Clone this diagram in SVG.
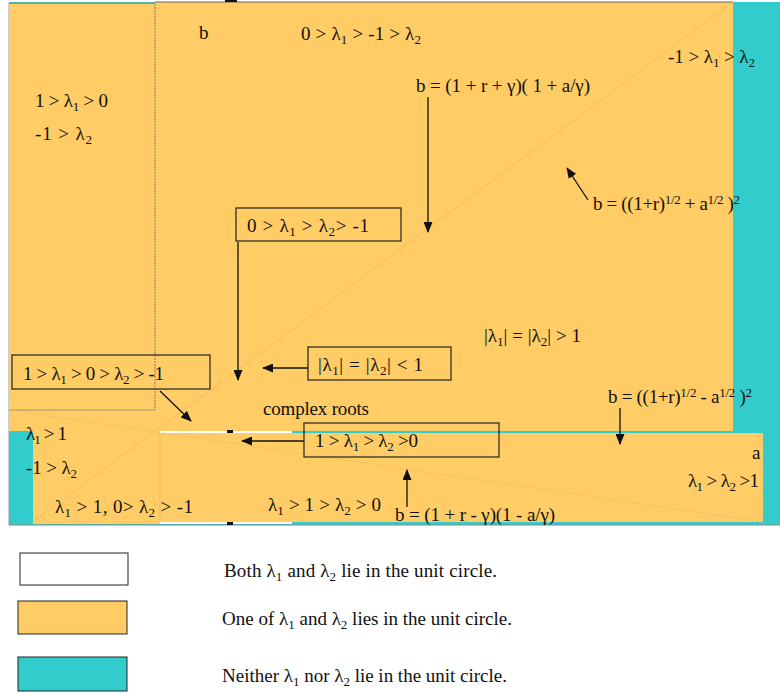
<svg xmlns="http://www.w3.org/2000/svg" width="780" height="693" viewBox="0 0 780 693">
<style>
text{font-family:"Liberation Serif","Times New Roman",serif;font-size:19px;fill:#111;}
.s{font-size:13px;}
.box{fill:none;stroke:#222;stroke-width:1.2;}
.arr{stroke:#111;stroke-width:1.3;fill:none;marker-end:url(#ah);}
.org{fill:#FFCC66;}
.cyn{fill:#33CCCC;}
.faint{stroke:#E6B35A;stroke-width:0.6;fill:none;}
</style>
<defs>
<marker id="ah" markerWidth="11" markerHeight="9" refX="10" refY="4.5" orient="auto" markerUnits="userSpaceOnUse">
<path d="M0,0 L11,4.5 L0,9 z" fill="#111"/>
</marker>
</defs>
<rect width="780" height="693" fill="#fff"/>
<g id="regions">
<rect class="cyn" x="9" y="2" width="771" height="523"/>
<rect class="org" x="155" y="2" width="578" height="429"/>
<rect class="org" x="9" y="4" width="146" height="406"/>
<rect class="org" x="9" y="410" width="151" height="21"/>
<rect class="org" x="33" y="433" width="730" height="89"/>
<rect class="org" x="33" y="431" width="127" height="93"/>
<rect x="160" y="431" width="132" height="2" fill="#fff"/>
<rect x="160" y="522" width="132" height="2" fill="#fff"/>
<line x1="155" y1="2" x2="733" y2="2" stroke="#666" stroke-width="1"/>
<line x1="9" y1="3" x2="155" y2="3" stroke="#888" stroke-width="0.8"/>
<line x1="155" y1="4" x2="155" y2="410" stroke="#667" stroke-width="0.8" stroke-dasharray="2,1"/>
<line x1="9" y1="410" x2="155" y2="410" stroke="#888" stroke-width="0.8"/>
<line x1="8.5" y1="3" x2="8.5" y2="525" stroke="#ccc" stroke-width="1"/>
<line x1="9" y1="525" x2="780" y2="525" stroke="#888" stroke-width="1"/>
<line class="faint" x1="33" y1="522" x2="733" y2="2"/>
<line class="faint" x1="9" y1="410" x2="763" y2="522" stroke-dasharray="3,2" stroke="#E8BE80"/>
<line class="faint" x1="160" y1="433" x2="160" y2="522" stroke="#E8BE80"/>
<rect x="225" y="0" width="12" height="2" fill="#111"/>
<rect x="227" y="430" width="6" height="3" fill="#111"/>
<rect x="227" y="522" width="6" height="3" fill="#111"/>
</g>
<g id="connectors">
<line class="arr" x1="428" y1="97" x2="428" y2="232"/>
<line class="arr" x1="588" y1="200" x2="567" y2="168"/>
<line class="arr" x1="238" y1="242" x2="238" y2="380"/>
<line class="arr" x1="308" y1="368" x2="263" y2="368"/>
<line class="arr" x1="160" y1="391" x2="191" y2="421"/>
<line class="arr" x1="304" y1="441" x2="242" y2="441"/>
<line class="arr" x1="407" y1="507" x2="407" y2="470"/>
<line class="arr" x1="620" y1="408" x2="620" y2="444"/>
</g>
<g id="label-b"><text x="199" y="39">b</text></g>
<g id="label-a"><text x="752" y="459">a</text></g>
<g id="region-top"><text x="301" y="40" textLength="120" lengthAdjust="spacing">0 &gt; λ<tspan class="s" dy="4">1</tspan><tspan dy="-4"> &gt; -1 &gt; λ</tspan><tspan class="s" dy="4">2</tspan></text></g>
<g id="region-topright"><text x="668" y="63" textLength="87" lengthAdjust="spacing">-1 &gt; λ<tspan class="s" dy="4">1</tspan><tspan dy="-4"> &gt; λ</tspan><tspan class="s" dy="4">2</tspan></text></g>
<g id="curve-upper"><text x="416" y="92" textLength="174" lengthAdjust="spacing">b = (1 + r + γ)( 1 + a/γ)</text></g>
<g id="region-left"><text x="35" y="107" textLength="73" lengthAdjust="spacing">1 &gt; λ<tspan class="s" dy="4">1</tspan><tspan dy="-4"> &gt; 0</tspan></text><text x="35" y="140" textLength="57" lengthAdjust="spacing">-1 &gt; λ<tspan class="s" dy="4">2</tspan></text></g>
<g id="curve-sqrt-plus"><text x="593" y="210" textLength="147" lengthAdjust="spacing">b = ((1+r)<tspan class="s" dy="-6">1/2</tspan><tspan dy="6"> + a</tspan><tspan class="s" dy="-6">1/2</tspan><tspan dy="6"> )</tspan><tspan class="s" dy="-6">2</tspan></text></g>
<g id="box-neg"><rect class="box" x="236" y="208" width="165" height="33"/><text x="247" y="232" textLength="122" lengthAdjust="spacing">0 &gt; λ<tspan class="s" dy="4">1</tspan><tspan dy="-4"> &gt; λ</tspan><tspan class="s" dy="4">2</tspan><tspan dy="-4">&gt; -1</tspan></text></g>
<g id="region-complex-out"><text x="484" y="342" textLength="97" lengthAdjust="spacing">|λ<tspan class="s" dy="4">1</tspan><tspan dy="-4">| = |λ</tspan><tspan class="s" dy="4">2</tspan><tspan dy="-4">| &gt; 1</tspan></text></g>
<g id="box-complex-in"><rect class="box" x="308" y="347" width="143" height="33"/><text x="318" y="371" textLength="105" lengthAdjust="spacing">|λ<tspan class="s" dy="4">1</tspan><tspan dy="-4">| = |λ</tspan><tspan class="s" dy="4">2</tspan><tspan dy="-4">| &lt; 1</tspan></text></g>
<g id="box-mixed"><rect class="box" x="12" y="355" width="198" height="34"/><text x="23" y="380" textLength="141" lengthAdjust="spacing">1 &gt; λ<tspan class="s" dy="4">1</tspan><tspan dy="-4"> &gt; 0 &gt; λ</tspan><tspan class="s" dy="4">2</tspan><tspan dy="-4"> &gt; -1</tspan></text></g>
<g id="label-complex"><text x="263" y="415" textLength="106" lengthAdjust="spacing">complex roots</text></g>
<g id="curve-sqrt-minus"><text x="608" y="403" textLength="144" lengthAdjust="spacing">b = ((1+r)<tspan class="s" dy="-6">1/2</tspan><tspan dy="6"> - a</tspan><tspan class="s" dy="-6">1/2</tspan><tspan dy="6"> )</tspan><tspan class="s" dy="-6">2</tspan></text></g>
<g id="box-pos"><rect class="box" x="304" y="423" width="195" height="34"/><text x="315" y="447" textLength="103" lengthAdjust="spacing">1 &gt; λ<tspan class="s" dy="4">1</tspan><tspan dy="-4"> &gt; λ</tspan><tspan class="s" dy="4">2</tspan><tspan dy="-4"> &gt;0</tspan></text></g>
<g id="region-botleft"><text x="26" y="440" textLength="41" lengthAdjust="spacing">λ<tspan class="s" dy="4">1</tspan><tspan dy="-4"> &gt; 1</tspan></text><text x="26" y="474" textLength="51" lengthAdjust="spacing">-1 &gt; λ<tspan class="s" dy="4">2</tspan></text></g>
<g id="region-botright"><text x="688" y="487" textLength="71" lengthAdjust="spacing">λ<tspan class="s" dy="4">1</tspan><tspan dy="-4"> &gt; λ</tspan><tspan class="s" dy="4">2</tspan><tspan dy="-4"> &gt;1</tspan></text></g>
<g id="region-bot1"><text x="55" y="513" textLength="138" lengthAdjust="spacing">λ<tspan class="s" dy="4">1</tspan><tspan dy="-4"> &gt; 1, 0&gt; λ</tspan><tspan class="s" dy="4">2</tspan><tspan dy="-4"> &gt; -1</tspan></text></g>
<g id="region-bot2"><text x="268" y="511" textLength="113" lengthAdjust="spacing">λ<tspan class="s" dy="4">1</tspan><tspan dy="-4"> &gt; 1 &gt; λ</tspan><tspan class="s" dy="4">2</tspan><tspan dy="-4"> &gt; 0</tspan></text></g>
<g id="curve-lower"><text x="395" y="521" textLength="160" lengthAdjust="spacing">b = (1 + r - γ)(1 - a/γ)</text></g>
<g id="legend">
<rect x="20" y="553" width="108" height="32" fill="#fff" stroke="#222" stroke-width="1"/>
<rect x="18" y="601" width="109" height="33" fill="#FFCC66" stroke="#222" stroke-width="1"/>
<rect x="18" y="657" width="109" height="34" fill="#33CCCC" stroke="#222" stroke-width="1"/>
<text x="224" y="577" textLength="273" lengthAdjust="spacing">Both λ<tspan class="s" dy="4">1</tspan><tspan dy="-4"> and λ</tspan><tspan class="s" dy="4">2</tspan><tspan dy="-4">  lie in the unit circle.</tspan></text>
<text x="222" y="625" textLength="290" lengthAdjust="spacing">One of λ<tspan class="s" dy="4">1</tspan><tspan dy="-4"> and λ</tspan><tspan class="s" dy="4">2</tspan><tspan dy="-4"> lies in the unit circle.</tspan></text>
<text x="222" y="682" textLength="285" lengthAdjust="spacing">Neither λ<tspan class="s" dy="4">1</tspan><tspan dy="-4"> nor λ</tspan><tspan class="s" dy="4">2</tspan><tspan dy="-4"> lie in the unit circle.</tspan></text>
</g>
</svg>
